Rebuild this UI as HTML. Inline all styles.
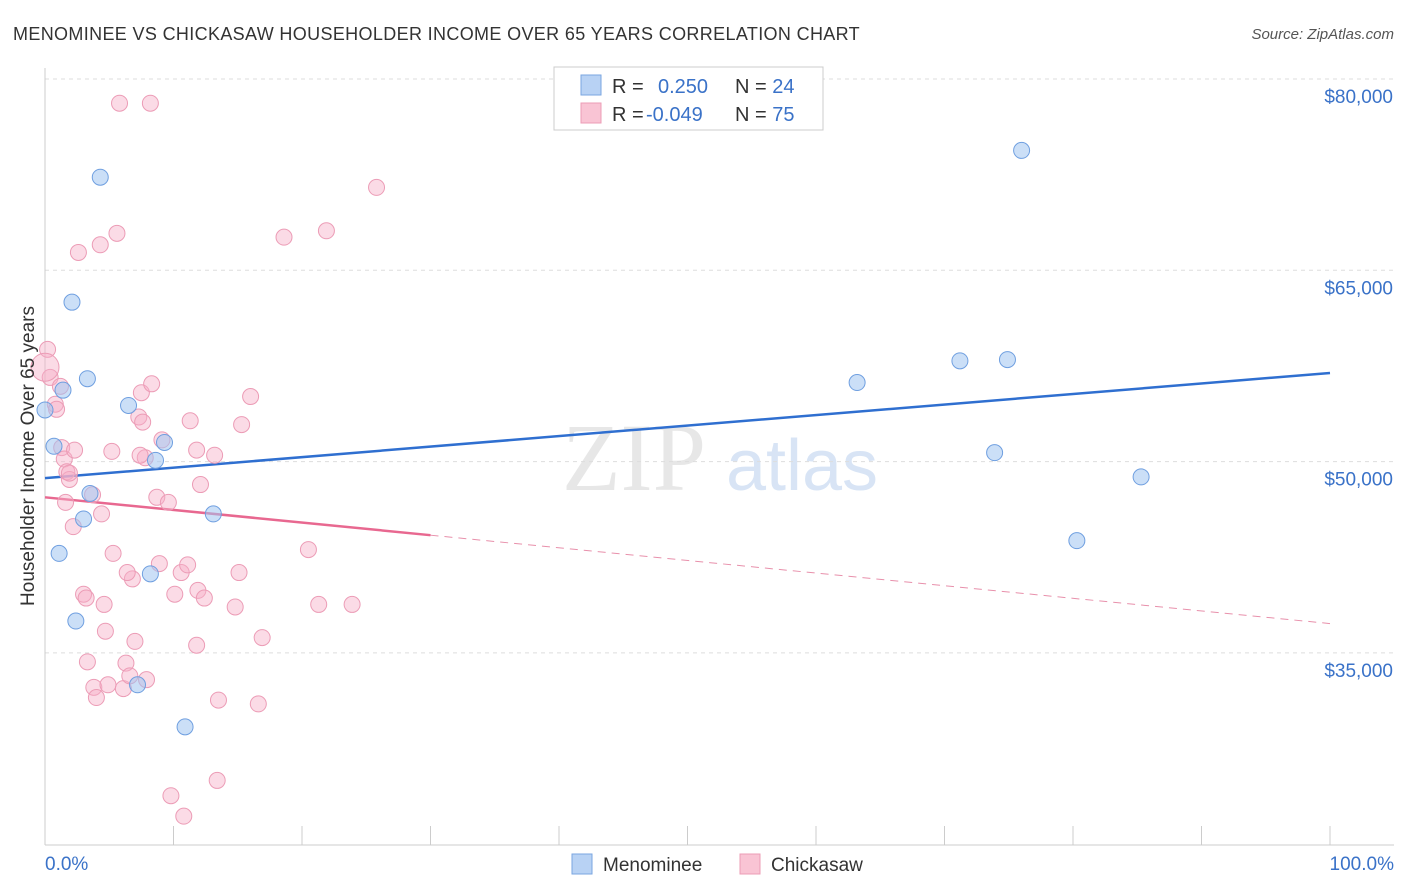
<!DOCTYPE html>
<html><head><meta charset="utf-8">
<style>
body{margin:0;background:#fff;font-family:"Liberation Sans",sans-serif;}
#wrap{position:relative;width:1406px;height:892px;overflow:hidden;}
</style></head>
<body>
<div id="wrap">
<svg id="chart" width="1406" height="892" xmlns="http://www.w3.org/2000/svg">
<text x="13" y="40" font-size="18" letter-spacing="0.35" fill="#333">MENOMINEE VS CHICKASAW HOUSEHOLDER INCOME OVER 65 YEARS CORRELATION CHART</text>
<text x="1394" y="39" font-size="15" fill="#555" font-style="italic" text-anchor="end">Source: ZipAtlas.com</text>
<g>
<text x="634" y="490" font-size="96" font-family="Liberation Serif,serif" fill="#ddd" text-anchor="middle" opacity="0.7">ZIP</text>
<text x="802" y="490" font-size="72" fill="#c8daf2" text-anchor="middle" opacity="0.7">atlas</text>
</g>
<g id="grid"></g>
<g id="axes"></g>
<g id="lines"></g>
<g id="points"></g>
<text x="34" y="456" font-size="19" fill="#333" text-anchor="middle" transform="rotate(-90 34 456)">Householder Income Over 65 years</text>
<g>
<rect x="554" y="67" width="269" height="63" fill="#fff" stroke="#ccc"/>
<rect x="581" y="75" width="20" height="20" fill="#b8d2f4" stroke="#7aa6e0"/>
<rect x="581" y="103" width="20" height="20" fill="#f9c4d4" stroke="#ec9cb6"/>
<text x="612" y="93" font-size="20" fill="#333">R = <tspan fill="#3a72c8" x="658">0.250</tspan><tspan x="735" fill="#333">N = </tspan><tspan fill="#3a72c8">24</tspan></text>
<text x="612" y="121" font-size="20" fill="#333">R = <tspan fill="#3a72c8" x="646">-0.049</tspan><tspan x="735" fill="#333">N = </tspan><tspan fill="#3a72c8">75</tspan></text>
</g>
<g>
<rect x="572" y="854" width="20" height="20" fill="#b8d2f4" stroke="#7aa6e0"/>
<text x="603" y="871" font-size="19" fill="#333">Menominee</text>
<rect x="740" y="854" width="20" height="20" fill="#f9c4d4" stroke="#ec9cb6"/>
<text x="771" y="871" font-size="19" fill="#333">Chickasaw</text>
</g>
</svg>
</div>
<script>
const yTicks=[80000,65000,50000,35000];
const yTickLabels=["$80,000","$65,000","$50,000","$35,000"];
const xTickLabels=["0.0%","100.0%"];
const blueX=[0,0.7,1.1,1.4,2.1,2.4,3.0,3.3,3.5,4.3,6.5,7.2,8.2,8.6,9.3,10.9,13.1,63.2,71.2,73.9,74.9,76.0,80.3,85.3];
const blueY=[54.05,51.2,42.8,55.6,62.5,37.5,45.5,56.5,47.5,72.3,54.4,32.5,41.2,50.1,51.5,29.2,45.9,56.2,57.9,50.7,58.0,74.4,43.8,48.8];
const pinkX=[0.2,0.4,0.8,0.9,1.2,1.3,1.5,1.7,1.9,1.6,2.2,2.3,2.6,3.0,3.2,3.3,3.7,3.8,4.0,4.3,4.4,4.6,4.7,4.9,5.2,5.3,5.6,5.8,6.1,6.3,6.6,6.8,7.0,7.3,7.5,7.6,7.8,7.9,8.3,8.2,8.7,8.9,9.1,9.6,9.8,10.1,10.6,10.8,11.1,11.3,11.8,11.9,11.8,12.1,12.4,13.2,13.5,13.4,14.8,15.1,15.3,16.0,16.6,16.9,18.6,20.5,21.3,21.9,23.9,25.8,1.9,6.4,7.4,0];
const pinkY=[58.8,56.6,54.5,54.1,55.9,51.1,50.2,49.2,48.6,46.8,44.9,50.9,66.4,39.6,39.3,34.3,47.4,32.3,31.5,67.0,45.9,38.8,36.7,32.5,50.8,42.8,67.9,78.1,32.2,34.2,33.2,40.8,35.9,53.5,55.4,53.1,50.3,32.9,56.1,78.1,47.2,42.0,51.7,46.8,23.8,39.6,41.3,22.2,41.9,53.2,50.9,39.9,35.6,48.2,39.3,50.5,31.3,25.0,38.6,41.3,52.9,55.1,31.0,36.2,67.6,43.1,38.8,68.1,38.8,71.5,49.1,41.3,50.5,57.4];
const blueLine=[48.7,56.95];
const pinkLine=[47.2,37.3];
const pinkSolidEnd=30;
const NS="http://www.w3.org/2000/svg";
const X=p=>45+p*12.85;
const Y=v=>79+(80000-v)/15000*191.3;
function mk(t,a,parent){const e=document.createElementNS(NS,t);for(const k in a)e.setAttribute(k,a[k]);document.getElementById(parent).appendChild(e);return e;}
yTicks.forEach((v,i)=>{
 const l=mk('line',{x1:45,x2:1394,y1:Y(v),y2:Y(v),stroke:'#ddd','stroke-dasharray':'4,4'},'grid');
 
 
 const t=mk('text',{x:1393,y:Y(v)+24,'font-size':19,fill:'#3a72c8','text-anchor':'end'},'axes');
 t.textContent=yTickLabels[i];
 
 
});
mk('line',{x1:45,x2:45,y1:68,y2:845,stroke:'#ccc'},'axes');
mk('line',{x1:45,x2:1394,y1:845,y2:845,stroke:'#ccc'},'axes');
for(let i=0;i<=10;i++){const tk=mk('line',{x1:X(i*10),x2:X(i*10),y1:826,y2:845,stroke:'#ccc'},'axes');
 
 }
[[0,'start',45],[1,'end',1394]].forEach(([i,a,x])=>{const t=mk('text',{x:x,y:870,'font-size':19,fill:'#3a72c8','text-anchor':a},'axes');t.textContent=xTickLabels[i];
 
 });
const pl=p=>pinkLine[0]+(pinkLine[1]-pinkLine[0])*p/100;
const bl=mk('line',{x1:X(0),y1:Y(blueLine[0]*1000),x2:X(100),y2:Y(blueLine[1]*1000),stroke:'#2f6fd0','stroke-width':2.5},'lines');


const ps=mk('line',{x1:X(0),y1:Y(pl(0)*1000),x2:X(pinkSolidEnd),y2:Y(pl(pinkSolidEnd)*1000),stroke:'#e86890','stroke-width':2.5},'lines');


const pd=mk('line',{x1:X(pinkSolidEnd),y1:Y(pl(pinkSolidEnd)*1000),x2:X(100),y2:Y(pl(100)*1000),stroke:'#e890ab','stroke-width':1,'stroke-dasharray':'8,6'},'lines');


pinkX.forEach((x,i)=>{const big=(i===pinkX.length-1);
 const c=mk('circle',{cx:X(x),cy:Y(pinkY[i]*1000),r:big?14:8,fill:'rgba(247,176,200,0.45)',stroke:'#ec9cb6','stroke-width':1},'points');
 
 });
blueX.forEach((x,i)=>{const c=mk('circle',{cx:X(x),cy:Y(blueY[i]*1000),r:8,fill:'rgba(160,196,240,0.55)',stroke:'#6f9fe0','stroke-width':1},'points');
 
 });
</script>
</body></html>
